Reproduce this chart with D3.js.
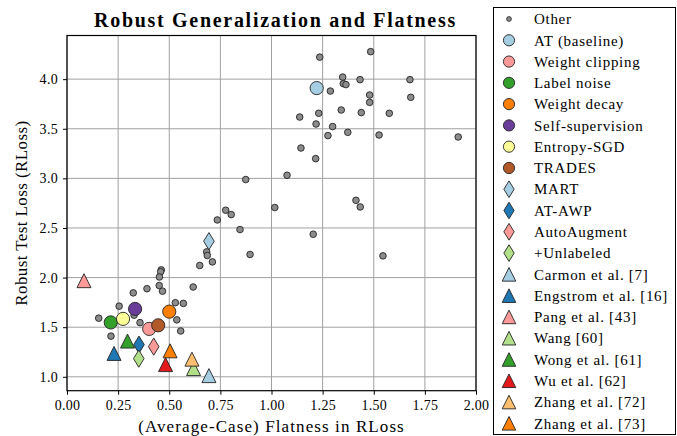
<!DOCTYPE html>
<html>
<head>
<meta charset="utf-8">
<script src="https://cdn.jsdelivr.net/npm/d3@7"></script>
<style>
  body { margin: 0; background: #fff; }
  text { font-family: "Liberation Serif", "DejaVu Serif", serif; fill: #000; }
</style>
</head>
<body>
<svg width="677" height="436"></svg>
<script>
// gray "Other" runs: (flatness, robust loss)
const otherFlatness = [1.236, 1.485, 1.348, 1.351, 1.364, 1.433, 1.677, 1.288, 1.480, 1.480,
  1.681, 1.138, 1.231, 1.341, 1.439, 1.576, 1.218, 1.299, 1.276, 1.373,
  1.526, 1.913, 1.144, 1.216, 1.076, 0.874, 1.413, 1.434, 1.016, 1.204,
  1.545, 0.776, 0.803, 0.735, 0.846, 0.683, 0.686, 0.711, 0.895, 0.649,
  0.461, 0.458, 0.452, 0.451, 0.467, 0.391, 0.324, 0.617, 0.530, 0.569,
  0.255, 0.328, 0.155, 0.357, 0.537, 0.556, 0.215]
const otherRLoss = [4.222, 4.277, 4.021, 3.955, 3.945, 3.995, 3.995, 3.880, 3.840, 3.766,
  3.817, 3.618, 3.656, 3.689, 3.663, 3.656, 3.548, 3.522, 3.431, 3.464,
  3.437, 3.417, 3.306, 3.199, 3.031, 2.988, 2.779, 2.712, 2.706, 2.437,
  2.219, 2.679, 2.635, 2.581, 2.484, 2.259, 2.223, 2.158, 2.233, 2.122,
  2.078, 2.059, 2.006, 1.920, 1.863, 1.888, 1.846, 1.905, 1.747, 1.740,
  1.712, 1.621, 1.591, 1.546, 1.574, 1.462, 1.410]

// highlighted methods
const methodNames = ["AT (baseline)", "Weight clipping", "Label noise", "Weight decay",
  "Self-supervision", "Entropy-SGD", "TRADES", "MART", "AT-AWP", "AutoAugment",
  "+Unlabeled", "Carmon et al. [7]", "Engstrom et al. [16]", "Pang et al. [43]",
  "Wang [60]", "Wong et al. [61]", "Wu et al. [62]", "Zhang et al. [72]", "Zhang et al. [73]"]
const methodShapes = ["circle", "circle", "circle", "circle", "circle", "circle", "circle",
  "diamond", "diamond", "diamond", "diamond",
  "triangle", "triangle", "triangle", "triangle", "triangle", "triangle", "triangle", "triangle"]
const methodColors = ["#a6cee3", "#fb9a99", "#33a02c", "#ff7f00", "#6a3d9a", "#ffff99", "#b15928",
  "#a6cee3", "#1f78b4", "#fb9a99", "#b2df8a",
  "#a6cee3", "#1f78b4", "#fb9a99", "#b2df8a", "#33a02c", "#e31a1c", "#fdbf6f", "#ff7f00"]
const methodFlatness = [1.221, 0.402, 0.214, 0.500, 0.333, 0.274, 0.446,
  0.694, 0.352, 0.424, 0.351,
  0.694, 0.230, 0.083, 0.619, 0.296, 0.482, 0.611, 0.504]
const methodRLoss = [3.910, 1.483, 1.548, 1.657, 1.684, 1.584, 1.519,
  2.367, 1.324, 1.304, 1.183,
  1.012, 1.236, 1.969, 1.083, 1.360, 1.123, 1.178, 1.262]

const xTicks = [0, 0.25, 0.5, 0.75, 1, 1.25, 1.5, 1.75, 2]
const yTicks = [1, 1.5, 2, 2.5, 3, 3.5, 4]

const svg = d3.select("svg")

const plot = { left: 67, right: 476, top: 35.5, bottom: 390.7 }

const x = d3.scaleLinear().domain([0, 2]).range([plot.left, plot.right])
const y = d3.scaleLinear().domain([0.86, 4.44]).range([plot.bottom, plot.top])

// marker paths, centered on 0,0
const markerPath = (shape, s) => {
  if (shape === "diamond") {
    const w = 5.3 * s, h = 8.6 * s
    return `M0,${-h}L${w},0L0,${h}L${-w},0Z`
  }
  if (shape === "triangle") {
    const w = 7 * s, h = 7 * s
    return `M0,${-h}L${w},${h}L${-w},${h}Z`
  }
  const r = 6.6 * s
  return d3.arc()({ innerRadius: 0, outerRadius: r, startAngle: 0, endAngle: 2 * Math.PI })
}

// grid
const grid = svg.append("g")
grid.selectAll("line.gx").data(xTicks).join("line")
  .attr("x1", d => x(d)).attr("x2", d => x(d))
  .attr("y1", plot.top).attr("y2", plot.bottom)
  .attr("stroke", "#a0a0a0").attr("stroke-width", 1)
grid.selectAll("line.gy").data(yTicks).join("line")
  .attr("y1", d => y(d)).attr("y2", d => y(d))
  .attr("x1", plot.left).attr("x2", plot.right)
  .attr("stroke", "#a0a0a0").attr("stroke-width", 1)

// axes
const xAxis = svg.append("g")
  .attr("transform", "translate(0," + plot.bottom + ")")
  .call(d3.axisBottom(x).tickValues(xTicks).tickFormat(d3.format(".2f")).tickSize(4).tickPadding(5))
const yAxis = svg.append("g")
  .attr("transform", "translate(" + plot.left + ",0)")
  .call(d3.axisLeft(y).tickValues(yTicks).tickFormat(d3.format(".1f")).tickSize(4).tickPadding(5))
svg.selectAll(".domain").remove()
svg.selectAll(".tick line").attr("stroke", "#000").attr("stroke-width", 1)
svg.selectAll(".tick text")
  .style("font-family", "Liberation Serif").style("font-size", "14px")
  .style("letter-spacing", "0.3px").attr("fill", "#222")

// frame
svg.append("rect")
  .attr("x", plot.left).attr("y", plot.top)
  .attr("width", plot.right - plot.left).attr("height", plot.bottom - plot.top)
  .attr("fill", "none").attr("stroke", "#000").attr("stroke-width", 1.2)

// points
const pts = svg.append("g")
pts.selectAll("circle.other").data(otherFlatness).join("circle")
  .attr("cx", d => x(d))
  .attr("cy", (d, i) => y(otherRLoss[i]))
  .attr("r", 3.3)
  .attr("fill", "#8c8c8c").attr("stroke", "#222").attr("stroke-width", 0.9)

pts.selectAll("path.method").data(methodNames).join("path")
  .attr("d", (d, i) => markerPath(methodShapes[i], 1))
  .attr("transform", (d, i) => "translate(" + x(methodFlatness[i]) + "," + y(methodRLoss[i]) + ")")
  .attr("fill", (d, i) => methodColors[i])
  .attr("stroke", "#222").attr("stroke-width", 0.9)

// labels
svg.append("text")
  .text("Robust Generalization and Flatness")
  .attr("x", (plot.left + plot.right) / 2 + 4).attr("y", 27)
  .attr("text-anchor", "middle")
  .attr("style", "font-size: 20px; font-weight: bold; letter-spacing: 1.7px")

svg.append("text")
  .text("(Average-Case) Flatness in RLoss")
  .attr("x", (plot.left + plot.right) / 2).attr("y", 432)
  .attr("text-anchor", "middle")
  .attr("style", "font-size: 17px; letter-spacing: 1.1px")

svg.append("text")
  .text("Robust Test Loss (RLoss)")
  .attr("transform", "translate(27," + (plot.top + plot.bottom) / 2 + ") rotate(-90)")
  .attr("text-anchor", "middle")
  .attr("style", "font-size: 17px; letter-spacing: 0.4px")

// legend
const legendNames = ["Other"].concat(methodNames)
const leg = svg.append("g")
leg.append("rect")
  .attr("x", 493.5).attr("y", 7.5).attr("width", 182).attr("height", 427)
  .attr("fill", "#fff").attr("stroke", "#000").attr("stroke-width", 1)

const rowY = i => 19 + i * 21.28
legendNames.forEach((name, i) => {
  if (i === 0) {
    leg.append("circle").attr("cx", 509).attr("cy", rowY(i)).attr("r", 2.4)
      .attr("fill", "#8c8c8c").attr("stroke", "#222").attr("stroke-width", 0.8)
  } else {
    const shape = methodShapes[i - 1]
    leg.append("path")
      .attr("d", markerPath(shape, shape === "circle" ? 0.85 : 0.97))
      .attr("transform", "translate(509," + rowY(i) + ")")
      .attr("fill", methodColors[i - 1]).attr("stroke", "#222").attr("stroke-width", 0.9)
  }
  leg.append("text")
    .text(name)
    .attr("x", 534).attr("y", rowY(i))
    .attr("dy", "0.35em")
    .attr("style", "font-size: 15px; letter-spacing: 0.7px")
})
</script>
</body>
</html>
